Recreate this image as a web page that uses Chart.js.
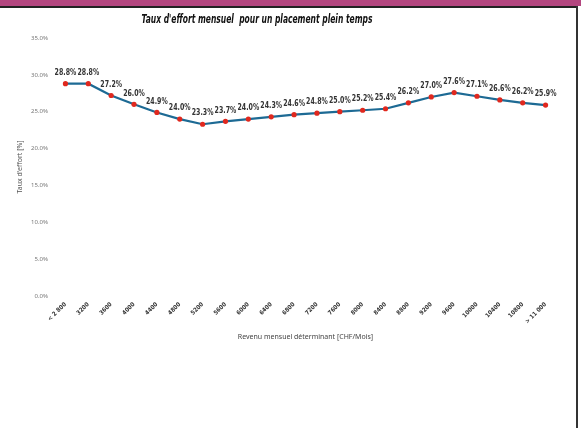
<!DOCTYPE html>
<html>
<head>
<meta charset="utf-8">
<script src="https://cdn.jsdelivr.net/npm/chart.js@4"></script>
<style>
  html, body { margin: 0; padding: 0; background: #fff; }
  #page { position: relative; width: 581px; height: 428px; overflow: hidden; }
  #banner { position: absolute; left: 0; top: 0; width: 581px; height: 6px; background: #b3467f; }
  #frameTop { position: absolute; left: 0; top: 6px; width: 578px; height: 2px; background: #222; }
  #frameRight { position: absolute; left: 576px; top: 6px; width: 2px; height: 422px; background: #333; }
  #box { position: absolute; left: 0; top: 0; width: 576px; height: 428px; }
</style>
</head>
<body>
<div id="page">
  <div id="banner"></div>
  <div id="frameTop"></div>
  <div id="frameRight"></div>
  <div id="box"><canvas id="canvas0"></canvas></div>
</div>
<script>
  // revenus (CHF/mois) et taux d'effort
  const aCategories = ["< 2 800", "3200", "3600", "4000", "4400", "4800", "5200", "5600", "6000", "6400", "6800",
    "7200", "7600", "8000", "8400", "8800", "9200", "9600", "10000", "10400", "10800", "> 11 000"];
  const aTaux = [28.8, 28.8, 27.2, 26.0, 24.9, 24.0, 23.3, 23.7, 24.0, 24.3, 24.6,
    24.8, 25.0, 25.2, 25.4, 26.2, 27.0, 27.6, 27.1, 26.6, 26.2, 25.9];
  const aYTicks = [0, 5, 10, 15, 20, 25, 30, 35];
  const sTitle = "Taux d'effort mensuel  pour un placement plein temps";

  const sNarrow = "'Liberation Sans Narrow', 'DejaVu Sans Condensed', 'Roboto', sans-serif";

  // titre + étiquettes de valeur (police condensée)
  const oValueLabels = {
    id: "valueLabels",
    afterDatasetsDraw: function (chart) {
      const ctx = chart.ctx;
      const oMeta = chart.getDatasetMeta(0);
      ctx.save();
      ctx.font = "bold 8.5px " + sNarrow;
      ctx.fillStyle = "#333";
      ctx.textAlign = "center";
      ctx.textBaseline = "middle";
      oMeta.data.forEach(function (oPoint, i) {
        ctx.save();
        ctx.translate(oPoint.x, oPoint.y - 11);
        ctx.scale(0.82, 1);
        ctx.fillText(aTaux[i].toFixed(1) + "%", 0, 0);
        ctx.restore();
      });
      ctx.restore();
    },
    afterDraw: function (chart) {
      const ctx = chart.ctx;
      ctx.save();
      ctx.font = "italic bold 12px " + sNarrow;
      ctx.fillStyle = "#111";
      ctx.textAlign = "center";
      ctx.textBaseline = "middle";
      ctx.translate(257, 20);
      ctx.scale(0.7, 1);
      ctx.fillText(sTitle, 0, 0);
      ctx.restore();
    }
  };

  const ctx = document.getElementById("canvas0").getContext("2d");
  new Chart(ctx, {
    type: "line",
    data: {
      labels: aCategories,
      datasets: [{
        data: aTaux,
        borderColor: "#1d6a94",
        borderWidth: 2.2,
        backgroundColor: "#e0281e",
        pointBackgroundColor: "#e0281e",
        pointBorderWidth: 0,
        pointRadius: 2.6,
        tension: 0
      }]
    },
    options: {
      responsive: true,
      maintainAspectRatio: false,
      animation: false,
      layout: { padding: { top: 38, right: 19, bottom: 83, left: 0 } },
      plugins: {
        legend: { display: false },
        tooltip: { enabled: false },
        title: { display: false }
      },
      scales: {
        x: {
          offset: true,
          grid: { display: false, drawTicks: false, tickLength: 0 },
          border: { display: false },
          ticks: {
            color: "#333",
            font: { family: sNarrow, size: 6, weight: "bold" },
            maxRotation: 45,
            minRotation: 45,
            autoSkip: false,
            padding: 5
          },
          title: {
            display: true,
            text: "Revenu mensuel déterminant [CHF/Mois]",
            color: "#444",
            font: { family: "'Noto Sans', sans-serif", size: 7 },
            padding: { top: 2, bottom: 4 }
          },
          afterFit: function (scale) { scale.height = 49; }
        },
        y: {
          min: 0,
          max: 35,
          afterBuildTicks: function (scale) {
            scale.ticks = aYTicks.map(function (v) { return { value: v }; });
          },
          grid: { display: false, drawTicks: false, tickLength: 0 },
          border: { display: false },
          ticks: {
            color: "#777",
            font: { family: "'Noto Sans', sans-serif", size: 6 },
            padding: 6,
            callback: function (v) { return Number(v).toFixed(1) + "%"; }
          },
          title: {
            display: true,
            text: "Taux d'effort [%]",
            color: "#555",
            font: { family: "'Noto Sans', sans-serif", size: 7 },
            padding: { top: 16, bottom: 0 }
          },
          afterFit: function (scale) { scale.width = 54; }
        }
      }
    },
    plugins: [oValueLabels]
  });
</script>
</body>
</html>
